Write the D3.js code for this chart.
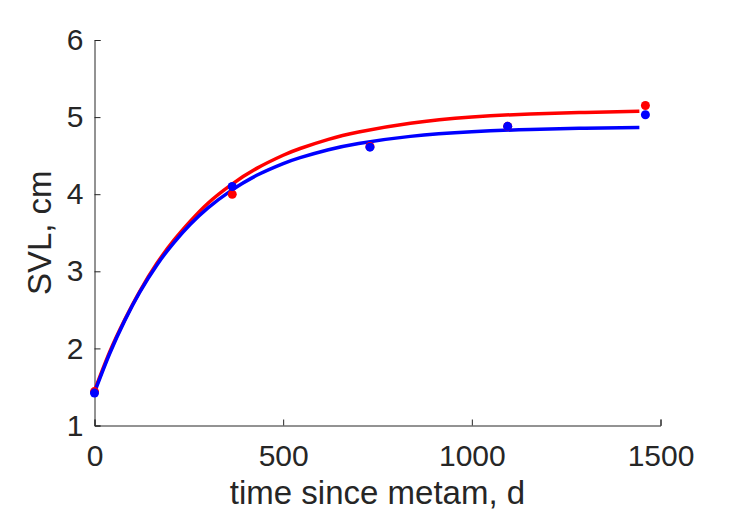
<!DOCTYPE html>
<html><head><meta charset="utf-8">
<script src="https://cdn.jsdelivr.net/npm/d3@7"></script>
<style>body{margin:0;background:#fff}svg{display:block}text{font-family:"Liberation Sans",Arial,sans-serif;fill:#262626}</style>
</head><body><svg id="c" width="729" height="521"></svg>
<script>
const xTicks = [0, 500, 1000, 1500];
const yTicks = [1, 2, 3, 4, 5, 6];
const curveT = [0, 40, 80, 120, 165, 210, 254, 300, 360, 430, 500, 545, 620, 700, 837, 1000, 1155, 1300, 1444];
const redCurve = [1.45, 1.95, 2.37, 2.74, 3.10, 3.40, 3.65, 3.88, 4.115, 4.335, 4.505, 4.593, 4.711, 4.806, 4.92, 5.00, 5.04, 5.06, 5.075];
const blueCurve = [1.43, 1.93, 2.36, 2.73, 3.08, 3.37, 3.61, 3.82, 4.04, 4.245, 4.397, 4.475, 4.577, 4.658, 4.75, 4.81, 4.84, 4.855, 4.864];
const obsT = [0, 365, 730, 1095, 1460];
const redObs = [1.44, 4.00, 4.62, 4.88, 5.15];
const blueObs = [1.42, 4.10, 4.61, 4.88, 5.03];

const svg = d3.select("#c");
const L = 94.5, R = 660.5, T = 40, B = 425.5;
const x = d3.scaleLinear().domain([0, 1500]).range([L, R]);
const y = d3.scaleLinear().domain([1, 6]).range([B, T]);

const xa = svg.append("g").attr("transform", `translate(0,${B})`)
  .call(d3.axisBottom(x).tickValues(xTicks).tickSizeInner(-6).tickSizeOuter(-6).tickPadding(19).tickFormat(d3.format("d")));
const ya = svg.append("g").attr("transform", `translate(${L},0)`)
  .call(d3.axisLeft(y).tickValues(yTicks).tickSizeInner(-6).tickSizeOuter(-6).tickPadding(11).tickFormat(d3.format("d")));
[xa, ya].forEach(a => {
  a.selectAll("path,line").attr("stroke", "#262626").attr("stroke-width", 1);
  a.selectAll("text").attr("font-size", 30).attr("fill", "#262626").style("font-family", "Liberation Sans, Arial, sans-serif");
});

const line = d3.line().x(d => x(d[0])).y(d => y(d[1])).curve(d3.curveNatural);
[[redCurve, "#ff0000"], [blueCurve, "#0000ff"]].forEach(([c, col]) => {
  svg.append("path").datum(curveT.map((t, i) => [t, c[i]]))
    .attr("d", line).attr("fill", "none").attr("stroke", col).attr("stroke-width", 3.5);
});
[[redObs, "#ff0000"], [blueObs, "#0000ff"]].forEach(([o, col]) => {
  svg.append("g").selectAll("circle").data(obsT.map((t, i) => [t, o[i]])).join("circle")
    .attr("cx", d => x(d[0])).attr("cy", d => y(d[1])).attr("r", 4.5).attr("fill", col);
});

svg.append("text").attr("x", (L + R) / 2).attr("y", 504).attr("text-anchor", "middle")
  .attr("font-size", 33).text("time since metam, d");
svg.append("text").attr("transform", `translate(51,${(T + B) / 2}) rotate(-90)`).attr("text-anchor", "middle")
  .attr("font-size", 33).text("SVL, cm");
</script></body></html>
